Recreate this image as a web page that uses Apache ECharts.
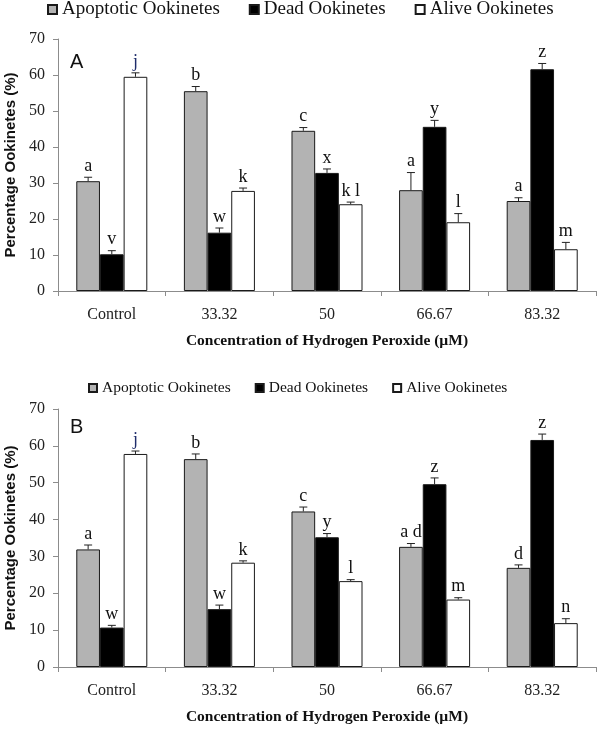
<!DOCTYPE html>
<html>
<head>
<meta charset="utf-8">
<script src="https://cdn.jsdelivr.net/npm/echarts@6/dist/echarts.min.js"></script>
<style>html,body{margin:0;padding:0;background:#fff}#c{width:600px;height:732px}</style>
</head>
<body>
<div id="c"></div>
<script>
const categories = ['Control', '33.32', '50', '66.67', '83.32'];
const seriesNames = ['Apoptotic Ookinetes', 'Dead Ookinetes', 'Alive Ookinetes'];
const xAxisTitle = 'Concentration of Hydrogen Peroxide (\u00b5M)';
const yAxisTitle = 'Percentage Ookinetes (%)';

// Panel A
const apoptoticA = [30.5, 55.5, 44.5, 28.0, 25.0];
const apoptoticErrA = [1.1, 1.3, 0.9, 4.9, 0.9];
const apoptoticLetA = ['a', 'b', 'c', 'a', 'a'];
const deadA = [10.2, 16.2, 32.8, 45.6, 61.6];
const deadErrA = [1.0, 1.3, 1.1, 1.8, 1.6];
const deadLetA = ['v', 'w', 'x', 'y', 'z'];
const aliveA = [59.5, 27.8, 24.1, 19.1, 11.6];
const aliveErrA = [1.1, 0.8, 0.6, 2.4, 1.9];
const aliveLetA = ['j', 'k', 'k l', 'l', 'm'];

// Panel B
const apoptoticB = [31.9, 56.4, 42.2, 32.6, 26.9];
const apoptoticErrB = [1.2, 1.4, 1.2, 0.9, 0.8];
const apoptoticLetB = ['a', 'b', 'c', 'a d', 'd'];
const deadB = [10.7, 15.7, 35.2, 49.6, 61.6];
const deadErrB = [0.6, 1.1, 1.0, 1.7, 1.6];
const deadLetB = ['w', 'w', 'y', 'z', 'z'];
const aliveB = [57.8, 28.3, 23.3, 18.3, 11.9];
const aliveErrB = [0.8, 0.5, 0.4, 0.5, 1.2];
const aliveLetB = ['j', 'k', 'l', 'm', 'n'];

const SERIF = '"Liberation Serif", "Times New Roman", serif';
const SANS = '"Liberation Sans", Arial, sans-serif';
const barColors = ['#b3b3b3', '#000000', '#ffffff'];
const BAR_FRAC = 0.22;

function barSeries(name, values, gridIdx, colorIdx) {
  return {
    type: 'bar', name: name, xAxisIndex: gridIdx, yAxisIndex: gridIdx,
    data: values, barWidth: (BAR_FRAC * 100) + '%', barGap: '0%',
    itemStyle: { color: barColors[colorIdx], borderColor: '#1a1a1a', borderWidth: 1 },
    emphasis: { disabled: true }, animation: false
  };
}

function errSeries(values, errs, letters, gridIdx, pos, letterColor) {
  return {
    type: 'custom', xAxisIndex: gridIdx, yAxisIndex: gridIdx, z: 5,
    clip: false, animation: false, silent: true,
    data: values.map(function (v, i) { return [i, v, v + errs[i]]; }),
    encode: { x: 0, y: [1, 2] },
    renderItem: function (params, api) {
      const i = api.value(0);
      const cw = api.size([1, 0])[0];
      const off = (pos - 1) * cw * BAR_FRAC;
      const p0 = api.coord([i, api.value(1)]);
      const p1 = api.coord([i, api.value(2)]);
      const x = p0[0] + off;
      const cap = 4;
      return {
        type: 'group',
        children: [
          { type: 'line', shape: { x1: x, y1: p0[1], x2: x, y2: p1[1] }, style: { stroke: '#222', lineWidth: 1 } },
          { type: 'line', shape: { x1: x - cap, y1: p1[1], x2: x + cap, y2: p1[1] }, style: { stroke: '#222', lineWidth: 1 } },
          { type: 'text', x: x, y: p1[1] - 2, style: { text: letters[params.dataIndex], fill: (letterColor && letterColor[params.dataIndex]) || '#111', font: '18px ' + SERIF, textAlign: 'center', textVerticalAlign: 'bottom' } }
        ]
      };
    }
  };
}

function xAxisCfg(gridIdx) {
  return {
    type: 'category', gridIndex: gridIdx, data: categories,
    axisLine: { show: true, lineStyle: { color: '#8c8c8c', width: 1 } },
    axisTick: { show: true, length: 5, lineStyle: { color: '#8c8c8c' } },
    axisLabel: { color: '#222', fontFamily: SERIF, fontSize: 16, margin: 16 },
    splitLine: { show: false },
    name: xAxisTitle, nameLocation: 'middle', nameGap: 42,
    nameTextStyle: { color: '#111', fontFamily: SERIF, fontWeight: 'bold', fontSize: 15.5 }
  };
}
function yAxisCfg(gridIdx) {
  return {
    type: 'value', gridIndex: gridIdx, min: 0, max: 70, interval: 10,
    axisLine: { show: true, lineStyle: { color: '#8c8c8c', width: 1 } },
    axisTick: { show: true, length: 5, lineStyle: { color: '#8c8c8c' } },
    axisLabel: { color: '#222', fontFamily: SERIF, fontSize: 16, margin: 13 },
    splitLine: { show: false },
    name: yAxisTitle, nameLocation: 'middle', nameGap: 40, nameRotate: 90,
    nameTextStyle: { color: '#111', fontFamily: SANS, fontWeight: 'bold', fontSize: 15 }
  };
}

const chart = echarts.init(document.getElementById('c'), null, { renderer: 'canvas' });
chart.setOption({
  backgroundColor: '#fff',
  animation: false,
  grid: [
    { left: 58, width: 538, top: 39, height: 252, containLabel: false, outerBoundsMode: 'none' },
    { left: 58, width: 538, top: 409, height: 258, containLabel: false, outerBoundsMode: 'none' }
  ],
  legend: [
    { data: seriesNames, left: 47, top: 0, padding: 0, itemGap: 29, itemWidth: 9, itemHeight: 9, icon: 'rect',
      textStyle: { fontFamily: SERIF, fontSize: 19, color: '#111' } },
    { data: seriesNames, left: 88, top: 380, padding: 0, itemGap: 24, itemWidth: 8, itemHeight: 8, icon: 'rect',
      textStyle: { fontFamily: SERIF, fontSize: 15.5, color: '#111' } }
  ],
  xAxis: [xAxisCfg(0), xAxisCfg(1)],
  yAxis: [yAxisCfg(0), yAxisCfg(1)],
  graphic: [
    { type: 'text', left: 70, top: 52, style: { text: 'A', font: '20px ' + SANS, fill: '#111' } },
    { type: 'text', left: 70, top: 417, style: { text: 'B', font: '20px ' + SANS, fill: '#111' } }
  ],
  series: [
    barSeries(seriesNames[0], apoptoticA, 0, 0),
    barSeries(seriesNames[1], deadA, 0, 1),
    barSeries(seriesNames[2], aliveA, 0, 2),
    barSeries(seriesNames[0], apoptoticB, 1, 0),
    barSeries(seriesNames[1], deadB, 1, 1),
    barSeries(seriesNames[2], aliveB, 1, 2),
    errSeries(apoptoticA, apoptoticErrA, apoptoticLetA, 0, 0),
    errSeries(deadA, deadErrA, deadLetA, 0, 1),
    errSeries(aliveA, aliveErrA, aliveLetA, 0, 2, ['#1f2d6b']),
    errSeries(apoptoticB, apoptoticErrB, apoptoticLetB, 1, 0),
    errSeries(deadB, deadErrB, deadLetB, 1, 1),
    errSeries(aliveB, aliveErrB, aliveLetB, 1, 2, ['#1f2d6b'])
  ]
});
</script>
</body>
</html>
